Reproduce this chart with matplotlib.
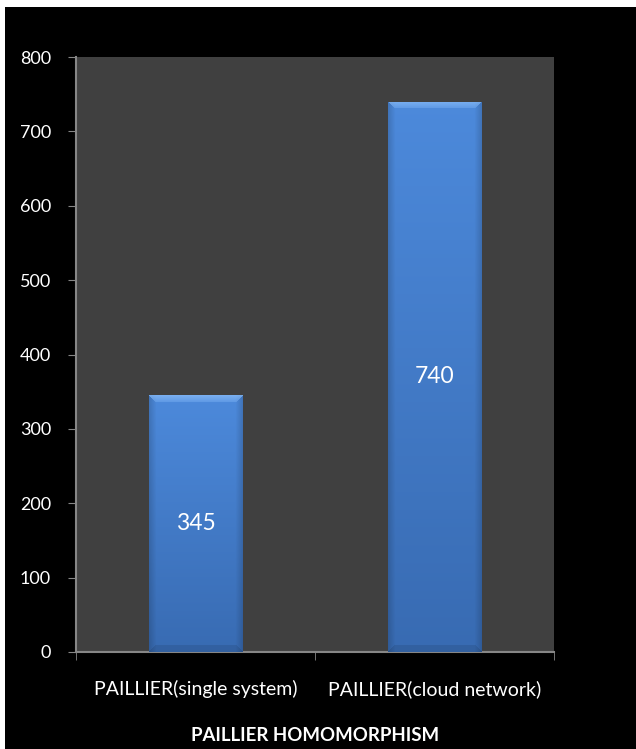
import matplotlib
matplotlib.use("Agg")
import matplotlib.pyplot as plt
import numpy as np
from matplotlib.patches import Rectangle

categories = ["PAILLIER(single system)", "PAILLIER(cloud network)"]
values = [345, 740]
x_title = "PAILLIER HOMOMORPHISM"
y_ticks = [0, 100, 200, 300, 400, 500, 600, 700, 800]

plt.rcParams["font.family"] = ["Lato", "DejaVu Sans"]

fig = plt.figure(figsize=(6.36, 7.49), dpi=100, facecolor="white")
# black chart area with a thin white margin on top/left
fig.patches.append(Rectangle((5 / 636, 0), 1, 1 - 7 / 749, transform=fig.transFigure,
                             facecolor="black", edgecolor="none", zorder=-5))
ax = fig.add_axes([76 / 636, 1 - 652 / 749, 478 / 636, 595 / 749])
ax.set_facecolor("#404040")

xs = np.arange(len(categories))
bars = ax.bar(xs, values, width=0.39, color="#4680cc", zorder=2)


def bevel_image(px_w, px_h, bevel=7):
    # vertical gradient, darker sides, light top bevel, dark bottom bevel
    nx, ny = int(px_w), int(px_h)
    t = np.linspace(0, 1, ny)[:, None]
    top = np.array([0.30, 0.54, 0.86])
    bot = np.array([0.22, 0.42, 0.70])
    img = top * (1 - t[..., None]) + bot * t[..., None]
    img = np.repeat(img, nx, axis=1)
    xx = np.arange(nx)[None, :]
    yy = np.arange(ny)[:, None]
    dside = np.minimum(xx, nx - 1 - xx)
    side = np.clip(dside / bevel, 0, 1)
    img = img * (0.85 + 0.15 * side)[..., None]
    # top bevel: lighter band that fades downward, within diagonal corners
    topmask = (yy < bevel) & (dside >= yy)
    fade = np.clip(1 - yy / bevel, 0, 1) * 0.6 + 0.4
    light = np.array([0.55, 0.75, 0.98])
    blend = np.where(topmask, fade * 0.7, 0)[..., None]
    img = img * (1 - blend) + light * blend
    botmask = (yy > ny - 1 - bevel) & (dside >= (ny - 1 - yy))
    img = np.where(botmask[..., None], img * 0.9, img)
    return np.clip(img, 0, 1)


for b in bars:
    x0, w, h = b.get_x(), b.get_width(), b.get_height()
    px_w = w * 478 / 2
    px_h = h * 595 / 800
    img = bevel_image(px_w, px_h)
    im = ax.imshow(img, extent=(x0, x0 + w, 0, h), aspect="auto", zorder=3,
                   interpolation="bilinear")
    im.set_clip_path(b)
    ax.text(x0 + w / 2, h / 2, f"{h:g}", ha="center", va="center",
            color="white", fontsize=16.5, zorder=4)

ax.set_xlim(-0.5, len(categories) - 0.5)
ax.set_ylim(0, 800)
ax.set_yticks(y_ticks)
ax.set_yticklabels([str(v) for v in y_ticks], color="white", fontsize=13)
ax.set_xticks(xs)
ax.set_xticklabels(categories, color="white", fontsize=14)
ax.tick_params(axis="x", length=0, pad=20)
ax.tick_params(axis="y", length=6, color="#868686", pad=12)
# boundary ticks between categories
ax.set_xticks(np.arange(-0.5, len(categories)), minor=True)
ax.tick_params(axis="x", which="minor", length=6, color="#868686")

for s in ["top", "right"]:
    ax.spines[s].set_visible(False)
for s in ["left", "bottom"]:
    ax.spines[s].set_color("#868686")
    ax.spines[s].set_linewidth(1.5)

ax.set_xlabel(x_title, color="white", fontsize=13.4, fontweight="bold", labelpad=21)

fig.savefig("out.png", dpi=100, facecolor="white")
